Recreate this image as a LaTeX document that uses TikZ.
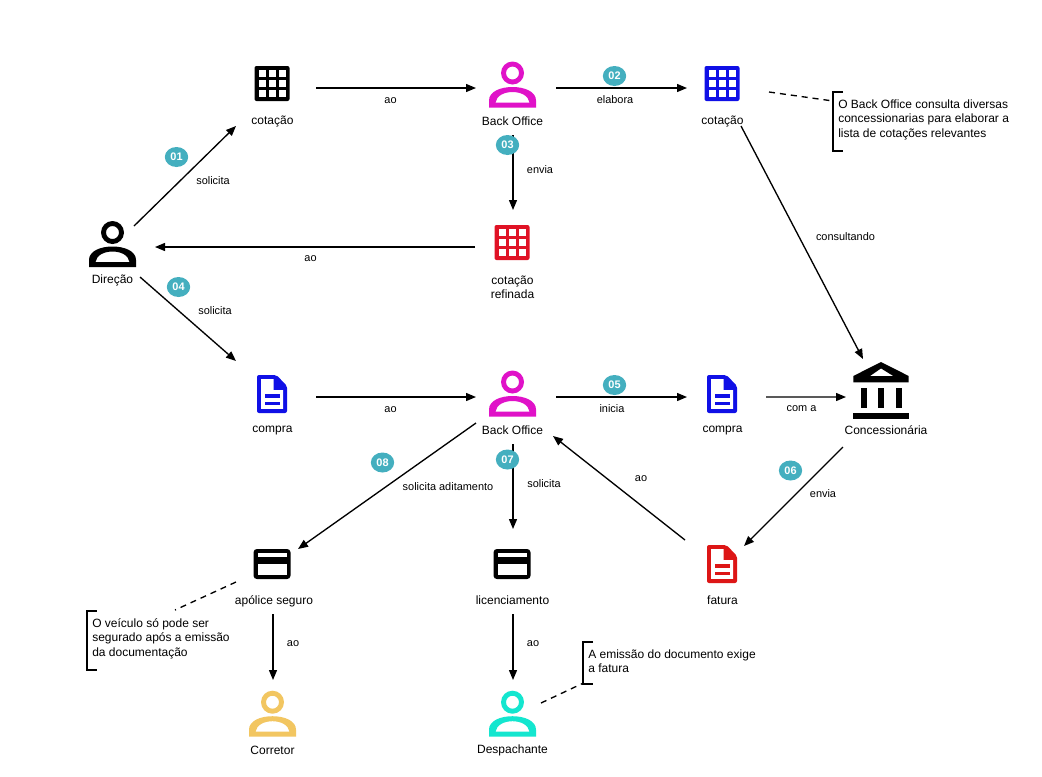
\documentclass[tikz,border=0pt]{standalone}
\usepackage{fontspec}
\setmainfont{Liberation Sans}
\usetikzlibrary{arrows.meta}
\usetikzlibrary{shapes.geometric}
\definecolor{cmag}{HTML}{E012C8}
\definecolor{cblue}{HTML}{1010E6}
\definecolor{cred}{HTML}{E01225}
\definecolor{cdred}{HTML}{DD1616}
\definecolor{cyel}{HTML}{F2C661}
\definecolor{ctur}{HTML}{14E6CF}
\definecolor{cbadge}{HTML}{44AFBF}
\tikzset{
  x=0.75pt,y=-0.75pt,
  entity/.style={inner sep=0pt,minimum width=27pt,minimum height=27pt},
  lbl/.style={font=\fontsize{9}{10.5}\selectfont,inner sep=0pt,align=center},
  elbl/.style={font=\fontsize{8.2}{9}\selectfont,inner sep=0pt},
  notetxt/.style={font=\fontsize{9}{10.9}\selectfont,inner sep=0pt,align=left,anchor=west},
  badge/.style={ellipse,fill=cbadge,text=white,inner sep=0pt,minimum width=17.5pt,minimum height=15pt,font=\bfseries\fontsize{8.2}{9}\selectfont},
  arr/.style={line width=1pt,-{Triangle[length=7.5pt,width=6pt]}},
  dashline/.style={line width=1pt,dash pattern=on 4.5pt off 3.75pt},
  bracketline/.style={line width=1.5pt},
  pics/personicon/.style={code={
    \fill[#1,even odd rule] (0,-11.5) circle (11.5) (0,-11.5) circle (6.5);
    \fill[#1,even odd rule] (-23.5,23) -- (-23.5,16) .. controls (-23.5,7) and (-12,2.5) .. (0,2.5) .. controls (12,2.5) and (23.5,7) .. (23.5,16) -- (23.5,23) -- cycle
      (-17,18) .. controls (-16,11) and (-8,7.5) .. (0,7.5) .. controls (8,7.5) and (16,11) .. (17,18) -- cycle;
  }},
  pics/gridicon/.style={code={
    \fill[#1,rounded corners=1.5pt] (-17.5,-17.5) rectangle (17.5,17.5);
    \foreach \cx in {-13.5,-3.5,6.5}{\foreach \cy in {-13.5,-3.5,6.5}{
      \fill[white] (\cx,\cy) rectangle ({\cx+7.3},{\cy+7.3});}}
  }},
  pics/cardicon/.style={code={
    \fill[#1,rounded corners=2.5pt] (-18.5,-15) rectangle (18.5,15);
    \fill[white] (-14.5,-11) rectangle (14.5,-7.3);
    \fill[white] (-14.5,0.3) rectangle (14.5,11);
  }},
  pics/docicon/.style={code={
    \fill[#1,rounded corners=1.5pt] (-15,19) -- (-15,-19) -- (4.3,-19) -- (15,-8.2) -- (15,19) -- cycle;
    \fill[white] (-11,-15) -- (1.7,-15) -- (1.7,-3.8) -- (11,-3.8) -- (11,14.8) -- (-11,14.8) -- cycle;
    \fill[#1] (-7,0) rectangle (7.5,3.5);
    \fill[#1] (-7,7.7) rectangle (7.5,11.2);
  }},
  pics/bankicon/.style={code={
    \fill[#1,even odd rule] (0,-28.7) -- (27.7,-14.7) -- (27.7,-8.3) -- (-27.7,-8.3) -- (-27.7,-14.7) -- cycle
      (-11,-14.7) -- (0,-22.3) -- (12.3,-14.7) -- cycle;
    \fill[#1] (-20,-3) rectangle (-14.3,17.7);
    \fill[#1] (-2.7,-3) rectangle (3,17.7);
    \fill[#1] (15,-3) rectangle (20.7,17.7);
    \fill[#1] (-27.7,22.7) rectangle (27.7,28.7);
  }},
}
\begin{document}
\begin{tikzpicture}
\useasboundingbox (0,0) rectangle (1042,776);
\fill[white] (0,0) rectangle (1042,776);

% entities
\node[entity] (dir) at (112.5,244) {};
\node[entity] (cot1) at (272,83.5) {};
\node[entity] (bo1) at (512.5,84.5) {};
\node[entity] (cot2) at (722,83.5) {};
\node[entity] (cotref) at (512,242.5) {};
\node[entity] (comp1) at (272,394) {};
\node[entity] (bo2) at (512.5,393.5) {};
\node[entity] (comp2) at (722,394) {};
\node[entity] (bank) at (881,390.7) {};
\node[entity] (apol) at (272,564) {};
\node[entity] (lic) at (512,564) {};
\node[entity] (fat) at (722,564) {};
\node[entity] (cor) at (272.5,713.7) {};
\node[entity] (desp) at (512.5,713.7) {};

% icons
\pic at (dir.center) {personicon=black};
\pic at (cot1.center) {gridicon=black};
\pic at (bo1.center) {personicon=cmag};
\pic at (cot2.center) {gridicon=cblue};
\pic at (cotref.center) {gridicon=cred};
\pic at (comp1.center) {docicon=cblue};
\pic at (bo2.center) {personicon=cmag};
\pic at (comp2.center) {docicon=cblue};
\pic at (bank.center) {bankicon=black};
\pic at (apol.center) {cardicon=black};
\pic at (lic.center) {cardicon=black};
\pic at (fat.center) {docicon=cdred};
\pic at (cor.center) {personicon=cyel};
\pic at (desp.center) {personicon=ctur};

% entity labels
\node[lbl] (tdir) at (112.5,280) {Direção};
\node[lbl] (tcot1) at (272.5,121.2) {cotação};
\node[lbl] (tbo1) at (512.5,121) {Back Office};
\node[lbl] (tcot2) at (722.5,121.2) {cotação};
\node[lbl] (tcotref) at (512.5,287) {cotação\\refinada};
\node[lbl] (tcomp1) at (272.5,430.5) {compra};
\node[lbl] (tbo2) at (512.5,430) {Back Office};
\node[lbl] (tcomp2) at (722.5,430.5) {compra};
\node[lbl] (tbank) at (886,430) {Concessionária};
\node[lbl] (tapol) at (274,601) {apólice seguro};
\node[lbl] (tlic) at (512.5,600.5) {licenciamento};
\node[lbl] (tfat) at (722.5,600) {fatura};
\node[lbl] (tcor) at (272.5,750) {Corretor};
\node[lbl] (tdesp) at (512.5,750) {Despachante};

% notes
\node[notetxt] (note1) at (838,119.5) {O Back Office consulta diversas\\concessionarias para elaborar a\\lista de cotações relevantes};
\node[notetxt] (note2) at (92,638.5) {O veículo só pode ser\\segurado após a emissão\\da documentação};
\node[notetxt] (note3) at (588,661) {A emissão do documento exige\\a fatura};

% brackets
\draw[bracketline] ([shift={(5,-27.5)}]note1.west) -- ([shift={(-5,-27.5)}]note1.west) -- ([shift={(-5,31.5)}]note1.west) -- ([shift={(5,31.5)}]note1.west);
\draw[bracketline] ([shift={(4.7,-27.8)}]note2.west) -- ([shift={(-5.3,-27.8)}]note2.west) -- ([shift={(-5.3,31.5)}]note2.west) -- ([shift={(4.7,31.5)}]note2.west);
\draw[bracketline] ([shift={(5,-19.3)}]note3.west) -- ([shift={(-5.3,-19.3)}]note3.west) -- ([shift={(-5.3,23)}]note3.west) -- ([shift={(5,23)}]note3.west);

% dashed links
\draw[dashline] ([shift={(47,8.5)}]cot2.center) -- ([shift={(-5,-18.5)}]note1.west);
\draw[dashline] ([shift={(-36,18)}]apol.center) -- ([shift={(83,-28.5)}]note2.west);
\draw[dashline] ([shift={(28.5,-10.7)}]desp.center) -- ([shift={(-5,22.2)}]note3.west);

% connectors
\draw[arr] ([shift={(21.5,-18)}]dir.center) -- ([shift={(-36,42.5)}]cot1.center);
\draw[arr] ([shift={(44,4.5)}]cot1.center) -- ([shift={(-36.5,3.5)}]bo1.center);
\draw[arr] ([shift={(43.5,3.5)}]bo1.center) -- ([shift={(-35,4.5)}]cot2.center);
\draw[arr] ([shift={(0.5,50.5)}]bo1.center) -- ([shift={(1,-32.5)}]cotref.center);
\draw[arr] ([shift={(-37,4.5)}]cotref.center) -- ([shift={(42.5,3)}]dir.center);
\draw[arr] ([shift={(27.5,33)}]dir.center) -- ([shift={(-36,-33)}]comp1.center);
\draw[arr] ([shift={(44,3)}]comp1.center) -- ([shift={(-36.5,3.5)}]bo2.center);
\draw[arr] ([shift={(43.5,3.5)}]bo2.center) -- ([shift={(-35,3)}]comp2.center);
\draw[arr] ([shift={(44,3)}]comp2.center) -- ([shift={(-35,6.3)}]bank.center);
\draw[arr] ([shift={(19,42.5)}]cot2.center) -- ([shift={(-18,-31.7)}]bank.center);
\draw[arr] ([shift={(-38,56.3)}]bank.center) -- ([shift={(22,-18)}]fat.center);
\draw[arr] ([shift={(-37,-24)}]fat.center) -- ([shift={(40.5,42.5)}]bo2.center);
\draw[arr] ([shift={(0.5,50.5)}]bo2.center) -- ([shift={(1,-35)}]lic.center);
\draw[arr] ([shift={(-36.5,29.5)}]bo2.center) -- ([shift={(26,-15)}]apol.center);
\draw[arr] ([shift={(1,50)}]apol.center) -- ([shift={(0.5,-33.7)}]cor.center);
\draw[arr] ([shift={(1,50)}]lic.center) -- ([shift={(0.5,-33.7)}]desp.center);

% edge labels
\node[elbl] (l1) at (213,181) {solicita};
\node[elbl] (l2) at (390.5,100.5) {ao};
\node[elbl] (l3) at (615,100) {elabora};
\node[elbl] (l4) at (540,169.5) {envia};
\node[elbl] (l5) at (310.5,259) {ao};
\node[elbl] (l6) at (215,311) {solicita};
\node[elbl] (l7) at (390.5,409.5) {ao};
\node[elbl] (l8) at (612,409) {inicia};
\node[elbl] (l9) at (801.5,409) {com a};
\node[elbl] (l10) at (845.5,237) {consultando};
\node[elbl] (l11) at (823,494) {envia};
\node[elbl] (l12) at (641,479) {ao};
\node[elbl] (l13) at (544,484) {solicita};
\node[elbl] (l14) at (448,487) {solicita aditamento};
\node[elbl] (l15) at (293,644) {ao};
\node[elbl] (l16) at (533,644) {ao};

% badges
\node[badge] (b1) at (176.5,157) {01};
\node[badge] (b2) at (614.5,76) {02};
\node[badge] (b3) at (507.5,145) {03};
\node[badge] (b4) at (178.5,287) {04};
\node[badge] (b5) at (614.5,385) {05};
\node[badge] (b6) at (790.5,470.5) {06};
\node[badge] (b7) at (507.5,459.5) {07};
\node[badge] (b8) at (382.5,462.5) {08};
\end{tikzpicture}
\end{document}
